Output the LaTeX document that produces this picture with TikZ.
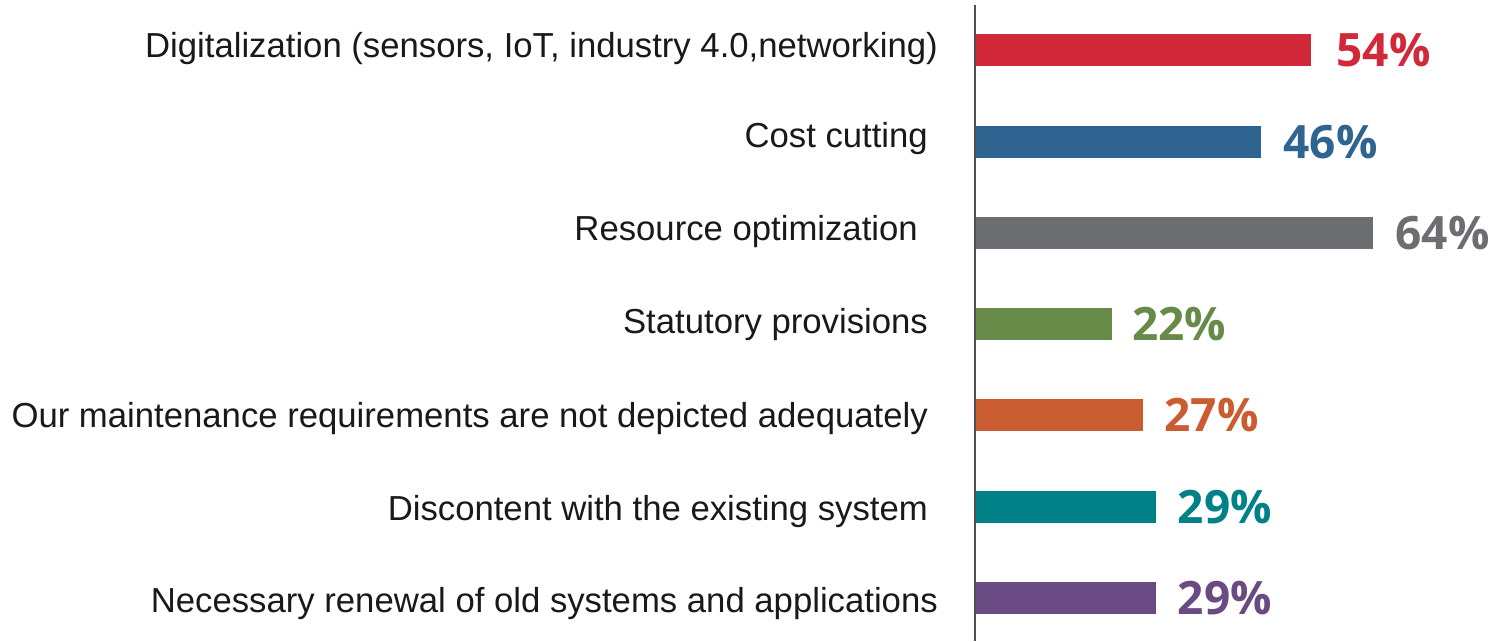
\documentclass[tikz,border=0pt]{standalone}
\usepackage{fontspec}
\setmainfont{Liberation Sans}
\newfontfamily\pctfont{Open Sans}
\usepackage{tikz}
\usetikzlibrary{positioning}
\usepackage{xcolor}
\definecolor{barred}{RGB}{209,40,58}
\definecolor{barblue}{RGB}{46,100,143}
\definecolor{bargray}{RGB}{109,110,113}
\definecolor{bargreen}{RGB}{103,138,72}
\definecolor{barorange}{RGB}{201,92,48}
\definecolor{barteal}{RGB}{0,128,135}
\definecolor{barpurple}{RGB}{106,74,130}
\definecolor{axisgray}{RGB}{80,80,80}

\begin{document}
\begin{tikzpicture}[x=1pt, y=-1pt,
        reason/.style={anchor=base east, inner sep=0pt, font=\fontsize{34.7}{36}\selectfont, text=black!90},
        bar/.style={rectangle, anchor=west, inner sep=0pt, minimum height=32pt, minimum width=#1*6.22pt},
        pct/.style={inner sep=0pt, font=\pctfont\bfseries\fontsize{46}{48}\selectfont}]

        \useasboundingbox (0,0) rectangle (1492,641);

        % Reasons
        \node[reason] (dig) at (938,57) {Digitalization (sensors, IoT, industry 4.0,networking)};
        \node[reason] (cost) at (928,147) {Cost cutting};
        \node[reason] (res) at (918,240) {Resource optimization};
        \node[reason] (stat) at (928,333) {Statutory provisions};
        \node[reason] (maint) at (928,427) {Our maintenance requirements are not depicted adequately};
        \node[reason] (disc) at (928,520) {Discontent with the existing system};
        \node[reason] (renew) at (938,612) {Necessary renewal of old systems and applications};

        % Bars
        \node[bar=54, fill=barred] (bdig) at (975,50) {};
        \node[bar=46, fill=barblue] (bcost) at (975,142) {};
        \node[bar=64, fill=bargray] (bres) at (975,233) {};
        \node[bar=22, fill=bargreen] (bstat) at (975,324) {};
        \node[bar=27, fill=barorange] (bmaint) at (975,415) {};
        \node[bar=29, fill=barteal] (bdisc) at (975,507) {};
        \node[bar=29, fill=barpurple] (brenew) at (975,598) {};

        % Values
        \node[pct, text=barred, right=25pt of bdig] (vdig) {54\%};
        \node[pct, text=barblue, right=22pt of bcost] (vcost) {46\%};
        \node[pct, text=bargray, right=22pt of bres] (vres) {64\%};
        \node[pct, text=bargreen, right=20pt of bstat] (vstat) {22\%};
        \node[pct, text=barorange, right=21pt of bmaint] (vmaint) {27\%};
        \node[pct, text=barteal, right=22pt of bdisc] (vdisc) {29\%};
        \node[pct, text=barpurple, right=22pt of brenew] (vrenew) {29\%};

        % Axis
        \coordinate (axtop) at (975,5);
        \coordinate (axbot) at (975,641);
        \draw[axisgray, line width=1.5pt] (axtop) -- (axbot);

    \end{tikzpicture}
\end{document}
